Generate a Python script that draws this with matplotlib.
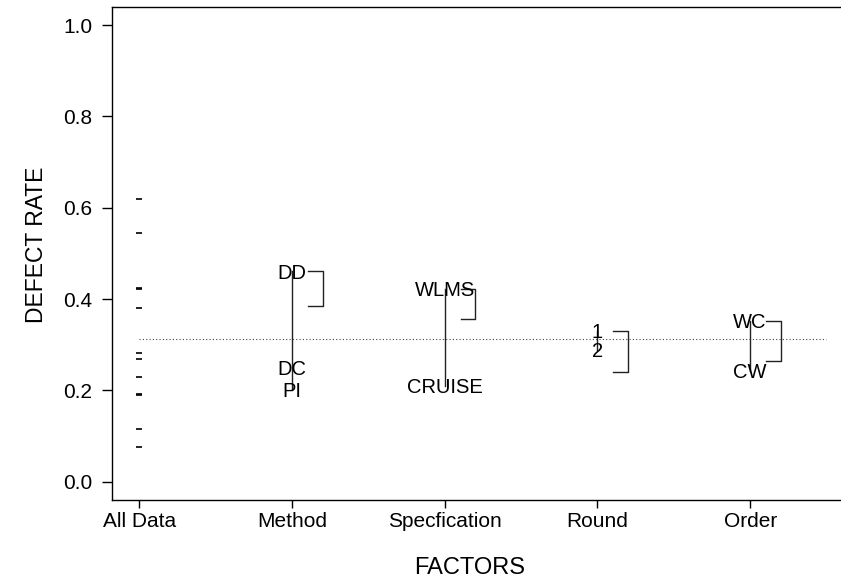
import numpy as np
import matplotlib
matplotlib.use("Agg")
import matplotlib.pyplot as plt

plt.rcParams['font.family'] = ['Liberation Sans', 'DejaVu Sans']

# Defect rates of the individual runs
all_data = [0.618, 0.544, 0.425, 0.422, 0.380, 0.2825,
            0.268, 0.2286, 0.192, 0.189, 0.1147, 0.0753]

factor_names = ["All Data", "Method", "Specfication", "Round", "Order"]

# Level means per factor
method_levels = ["DD", "DC", "PI"]
method_means = [0.461, 0.249, 0.201]
spec_levels = ["WLMS", "CRUISE"]
spec_means = [0.422, 0.2106]
round_levels = ["1", "2"]
round_means = [0.331, 0.289]
order_levels = ["WC", "CW"]
order_means = [0.3525, 0.2424]

# Lower end of the comparison bracket drawn beside each factor
bracket_low = [0.385, 0.3556, 0.241, 0.265]

factors = [
    (method_levels, method_means),
    (spec_levels, spec_means),
    (round_levels, round_means),
    (order_levels, order_means),
]

fig = plt.figure(figsize=(8.41, 5.85), dpi=100)
ax = fig.add_axes([0.1335, 0.1453, 0.889, 0.8422])

xpos = np.arange(1, len(factor_names) + 1)

# individual observations
ax.plot(np.full(len(all_data), xpos[0]), all_data, ls='none',
        marker='_', ms=3.8, mew=1.2, color='black')

# grand mean
grand_mean = np.mean(all_data)
ax.plot([xpos[0], 5.5], [grand_mean, grand_mean], color='#444444',
        lw=0.8, ls=(0, (1, 2)))

for (levels, means), x, low in zip(factors, xpos[1:], bracket_low):
    ax.plot([x, x], [max(means), min(means)], color='#222222', lw=1.0)
    for lab, m in zip(levels, means):
        ax.text(x, m, lab, ha='center', va='center_baseline', fontsize=14.5)
    top = max(means)
    ax.plot([x + 0.105, x + 0.2, x + 0.2, x + 0.105],
            [top, top, low, low], color='#222222', lw=1.0)

ax.set_xlim(0.8225, 5.719)
ax.set_ylim(-0.0401, 1.0388)
ax.set_xticks(xpos)
ax.set_xticklabels(factor_names, fontsize=15)
ax.set_yticks([0.0, 0.2, 0.4, 0.6, 0.8, 1.0])
ax.set_yticklabels(["0.0", "0.2", "0.4", "0.6", "0.8", "1.0"], fontsize=15)
ax.tick_params(axis='y', length=7.2, width=1.0, pad=7)
ax.tick_params(axis='x', length=5.5, width=1.0, pad=3)

for side in ['left', 'top', 'bottom']:
    ax.spines[side].set_linewidth(1.0)
ax.spines['right'].set_visible(False)

ax.set_ylabel("DEFECT RATE", fontsize=16.5)
ax.yaxis.label.set_va('center')
ax.yaxis.set_label_coords(-0.1007, 0.5175)
ax.set_xlabel("FACTORS", fontsize=17)
ax.xaxis.label.set_va('center')
ax.xaxis.set_label_coords(0.4777, -0.138)

fig.savefig("out.png", dpi=100)
